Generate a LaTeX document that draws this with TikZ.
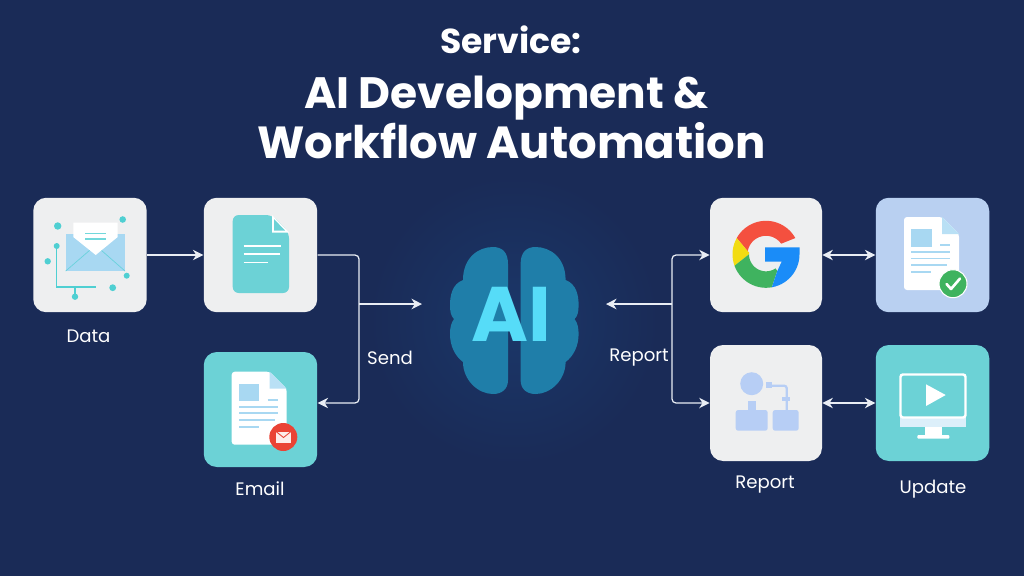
\documentclass[tikz,border=0pt]{standalone}
\usepackage{fontspec}
\usetikzlibrary{arrows.meta}
\setmainfont{Poppins}

\definecolor{navy}{HTML}{1A2B57}
\definecolor{glow}{HTML}{1B3769}
\definecolor{panelgrey}{HTML}{EEEFF0}
\definecolor{panelteal}{HTML}{6CD2D6}
\definecolor{panelblue}{HTML}{B9D0F1}
\definecolor{paleblue}{HTML}{A8D8F2}
\definecolor{iconblue}{HTML}{B7CEF5}
\definecolor{dotteal}{HTML}{4FCFD2}
\definecolor{lobeblue}{HTML}{1F7EA9}
\definecolor{aicyan}{HTML}{56DCF8}
\definecolor{linkwhite}{HTML}{E9EDF4}
\definecolor{gred}{HTML}{F4503F}
\definecolor{gyellow}{HTML}{F2DC12}
\definecolor{ggreen}{HTML}{3FB35F}
\definecolor{gblue}{HTML}{1A8CF8}
\definecolor{mailred}{HTML}{EA4335}

\tikzset{
	panel/.style={fill=#1, rounded corners=0.26cm, inner sep=0pt, minimum width=2.27cm, minimum height=2.29cm},
	link/.style={draw=linkwhite, line width=0.7pt, rounded corners=0.08cm, >={Stealth[length=6pt,width=6pt]}},
	label/.style={text=white, anchor=base, font=\fontsize{10.3}{12}\selectfont},
	pageicon/.pic={
		\fill[white, rounded corners=0.06cm] (0,0) -- (38,0) -- (55,17) -- (55,73) -- (0,73) -- cycle;
		\fill[paleblue!80!white] (38,0) -- (55,17) -- (38,17) -- cycle;
		\fill[paleblue] (7.3,12) rectangle (27.7,29.5);
		\draw[paleblue, line width=0.9pt] (36,28) -- (46,28);
		\foreach \y/\w in {35/46, 41.5/46, 48/43, 55/27}
			\draw[paleblue, line width=0.9pt] (7.3,\y) -- (\w,\y);
	}
}

\newcommand{\lobepath}{(508,264) .. controls (508,252) and (502,247) .. (493,247)
	.. controls (478,247) and (463,258) .. (463,280)
	.. controls (452,284) and (450,296) .. (450,305)
	.. controls (450,312) and (451,316) .. (454,319)
	.. controls (451,323) and (450,328) .. (450,334)
	.. controls (450,346) and (455,356) .. (463,362)
	.. controls (463,380) and (478,394) .. (493,394)
	.. controls (502,394) and (508,389) .. (508,380) -- cycle}

\begin{document}
\begin{tikzpicture}[x=0.02cm, y=-0.02cm]
	\useasboundingbox (0,0) rectangle (1024,576);
	\fill[navy] (0,0) rectangle (1024,576);
	\shade[inner color=glow, outer color=navy, draw=none] (514,320) circle (2.9cm);
	
	% title
	\node[anchor=base, text=white, font=\fontsize{19.7}{22}\selectfont\bfseries] (service) at (511,53) {Service:};
	\node[anchor=base, text=white, font=\fontsize{25}{28}\selectfont\bfseries] (titleA) at (506.5,108) {AI Development \&};
	\node[anchor=base, text=white, font=\fontsize{25.6}{28}\selectfont\bfseries] (titleB) at (511.5,158) {Workflow Automation};
	
	% boxes
	\node[panel=panelgrey] (data) at (90,255) {};
	\node[panel=panelgrey] (doc) at (260.5,255) {};
	\node[panel=panelteal, minimum height=2.3cm] (email) at (260.5,409.5) {};
	\node[panel=panelgrey, minimum width=2.24cm] (google) at (766,255) {};
	\node[panel=panelblue] (check) at (932.5,255) {};
	\node[panel=panelgrey, minimum width=2.24cm, minimum height=2.32cm] (report) at (766,403) {};
	\node[panel=panelteal, minimum height=2.32cm] (update) at (932.5,403) {};
	
	% brain
	\fill[lobeblue] \lobepath;
	\begin{scope}[shift={(1028.6,0)}, xscale=-1]
		\fill[lobeblue] \lobepath;
	\end{scope}
	\node[anchor=base, text=aicyan, font=\fontsize{44}{48}\selectfont\bfseries] (ai) at (511,341) {AI};
	
	% connectors
	\coordinate (sendjoin) at (359,304);
	\coordinate (sendlow) at (359,403);
	\coordinate (sendend) at (422,304);
	\coordinate (reportjoin) at (672,304);
	\coordinate (reportend) at (606,304);
	\draw[link, ->] (data.east) -- (doc.west);
	\draw[link, ->] (doc.east) -| (sendlow) -- (email.east |- sendlow);
	\draw[link, ->] (sendjoin) -- (sendend);
	\draw[link, <->] (google.west) -| (reportjoin) |- (report.west);
	\draw[link, ->] (reportjoin) -- (reportend);
	\draw[link, <->] (google.east) -- (check.west);
	\draw[link, <->] (report.east) -- (update.west);
	
	% data icon
	\fill[paleblue] (65.7,234) -- (125,234) -- (125,271) -- (65.7,271) -- cycle;
	\draw[dotteal!70!paleblue, line width=0.4pt] (65.7,271) -- (90,250) (125,271) -- (101,250);
	\fill[white] (73.3,222.7) -- (117.7,222.7) -- (117.7,237) -- (95.7,255) -- (73.3,237) -- cycle;
	\draw[dotteal!80!white, line width=0.7pt] (85,233.5) -- (106,233.5) (85,239) -- (106,239);
	\draw[dotteal, line width=0.8pt] (56.7,246) -- (56.7,287) -- (96,287) (75,287) -- (75,296);
	\foreach \x/\y/\r in {57.7/226/3.7, 122.7/219.5/3.3, 126.7/275.7/3, 112.7/287.7/3.4, 75/296.7/3.2, 47.7/261.3/3.2, 56.7/246/3}
		\fill[dotteal] (\x,\y) circle (\r*0.02cm);
	
	% doc icon
	\fill[panelteal, rounded corners=0.12cm] (232.7,215) -- (272,215) -- (289,232.5) -- (289,293) -- (232.7,293) -- cycle;
	\fill[white] (272,215) -- (289,232.5) -- (272,232.5) -- cycle;
	\fill[panelteal] (274,219) -- (285,230.5) -- (274,230.5) -- cycle;
	\draw[white, line width=0.9pt] (243.5,245.7) -- (281,245.7) (243.5,254) -- (280,254) (243.5,262.3) -- (268,262.3);
	
	% email icon
	\pic at (231.7,371.7) {pageicon};
	\fill[mailred] (283.3,437) circle (14*0.02cm);
	\fill[white!90!mailred] (276,431.5) rectangle (291,442.5);
	\draw[mailred, line width=0.5pt] (276,431.5) -- (283.5,437.5) -- (291,431.5);
	
	% google icon
	\begin{scope}[shift={(766,254.3)}, yscale=-1]
		\fill[gred] plot[domain=29:151, samples=25] (\x:33.5) -- (175:17) -- plot[domain=175:35, samples=25] (\x:18.5) -- cycle;
		\fill[gyellow] plot[domain=151:200, samples=10] (\x:33.5) -- (180:17) -- (175:17) -- cycle;
		\fill[ggreen] plot[domain=200:280, samples=15] (\x:33.5) -- (304:20) -- plot[domain=304:180, samples=20] (\x:17) -- cycle;
		\fill[gblue] plot[domain=280:360, samples=15] (\x:33.5) -- (33.5,7) -- (-1,7) -- (-1,-7.3) -- (15.7,-7.3) -- (11.3,-16.7) -- cycle;
	\end{scope}
	
	% check icon
	\pic at (904,217) {pageicon};
	\fill[ggreen, draw=white, line width=0.6pt] (953,283.7) circle (14*0.02cm);
	\draw[white, line width=1.5pt, line cap=round, line join=round] (946.5,284) -- (951,289) -- (960,278.5);
	
	% report icon
	\fill[iconblue] (751.7,383.7) circle (11.5*0.02cm);
	\fill[iconblue] (766,381.7) rectangle (771.7,388.3);
	\draw[iconblue, line width=1.3pt, rounded corners=0.05cm] (771,385.7) -- (786.7,385.7) -- (786.7,410);
	\fill[iconblue] (782.3,397) rectangle (790,401);
	\fill[iconblue] (748.3,401) rectangle (755.7,411);
	\fill[iconblue, rounded corners=0.05cm] (735.7,410) rectangle (767.7,430.7);
	\fill[iconblue, rounded corners=0.05cm] (772.7,410) rectangle (798.7,430.7);
	
	% update icon
	\fill[white!60!paleblue] (900,417.7) rectangle (966,427.3);
	\draw[white, line width=1.4pt, rounded corners=0.05cm] (900.5,374.5) rectangle (965.5,417.5);
	\fill[white] (925,427.3) rectangle (941.7,435);
	\fill[white, rounded corners=0.02cm] (917.3,435) rectangle (949.3,438.7);
	\fill[white] (926,384.3) -- (945.7,395) -- (926,406) -- cycle;
	
	% labels
	\node[label] (datalabel) at (88.5,342) {Data};
	\node[label] (sendlabel) at (390,364) {Send};
	\node[label] (reportlink) at (639,361) {Report};
	\node[label] (emaillabel) at (260,495) {Email};
	\node[label] (reportlabel) at (765,488) {Report};
	\node[label] (updatelabel) at (933,493) {Update};
\end{tikzpicture}
\end{document}
